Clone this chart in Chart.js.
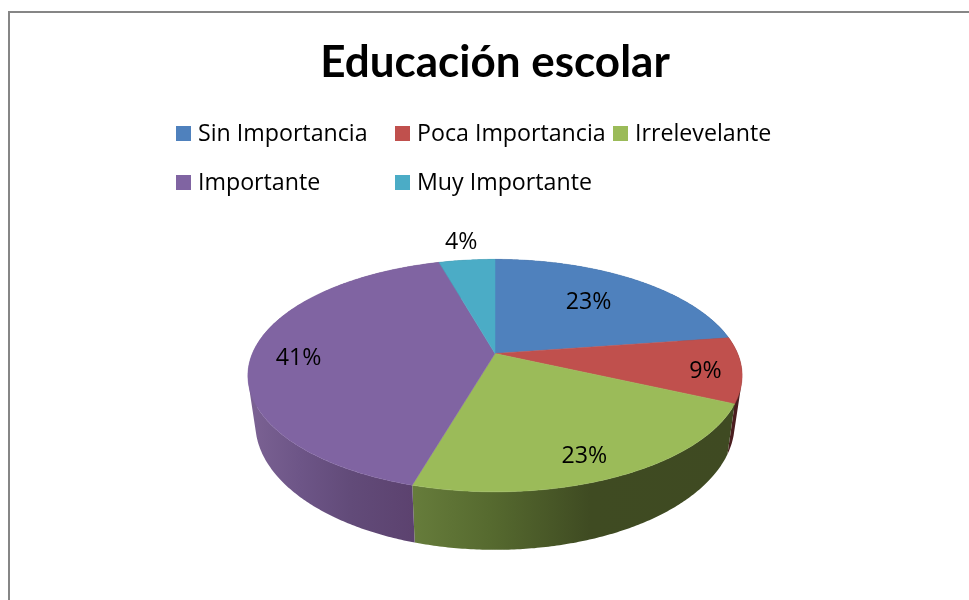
<!DOCTYPE html>
<html>
<head>
<meta charset="utf-8">
<title>Educación escolar</title>
<script src="https://cdn.jsdelivr.net/npm/chart.js@4"></script>
<style>
    html, body { margin: 0; padding: 0; background: #fff; }
    canvas { display: block; }
</style>
</head>
<body>
<canvas id="pieChart" width="969" height="600"></canvas>
<script>
// --- Data ---
const titleText = 'Educación escolar';
const categories = ['Sin Importancia', 'Poca Importancia', 'Irrelevelante', 'Importante', 'Muy Importante'];
const percentages = [22.7, 9.1, 22.7, 41.1, 4.4];

// --- Estilo ---
const sliceColors = ['#4F81BD', '#C0504D', '#9BBB59', '#8064A2', '#4BACC6'];
// wall shading by screen x: [x, colour] stops per slice
const wallShades = [
    [[250, '#2f4d71'], [740, '#2f4d71']],
    [[250, '#4a1d1f'], [740, '#4a1d1f']],
    [[414, '#667c3b'], [490, '#566a2f'], [590, '#3f4b22'], [735, '#3f4a22']],
    [[250, '#7b6293'], [300, '#6d5587'], [350, '#624b79'], [414, '#5c426f']],
    [[250, '#2d6676'], [740, '#2d6676']]
];
const labelRadius = [0.66, 0.86, 0.84, 0.81, 1.25];
const labelNudge = [[-2, 0], [-1, 4], [-10, 3], [0, 5], [0, 1]];
const legendCols = [176, 395, 613];
const legendRows = [134, 183];
const bodyFont = '23.2px "Open Sans"';

// --- Proyeksi pie 3D (perspective of the unit circle to the screen) ---
const apexX = 495, apexY = 353.5;
const persp = -0.19, scaleX = 242.6, scaleY = 44.9;

function project(angle, r) {
    // angle is the Chart.js arc angle, -PI/2 is the top of the pie
    const x = Math.cos(angle) * r;
    const y = Math.sin(angle) * r;
    const d = 1 + persp * y;
    return { x: apexX + scaleX * x / d, y: (scaleY * y + apexY) / d };
}

function lowerRim(p) {
    return { x: apexX + (p.x - apexX) * 0.97, y: p.y * 1.087 + 15.2 };
}

function sampleRim(start, end) {
    const pts = [];
    const steps = Math.max(2, Math.ceil((end - start) / 0.01));
    for (let i = 0; i <= steps; i++) {
        pts.push(project(start + (end - start) * i / steps, 1));
    }
    return pts;
}

const pie3d = {
    id: 'pie3d',
    beforeDraw(chart) {
        const c = chart.ctx;
        c.save();
        c.fillStyle = '#fff';
        c.fillRect(0, 0, chart.width, chart.height);
        c.strokeStyle = '#868686';
        c.lineWidth = 2;
        c.beginPath();
        c.moveTo(9, chart.height);
        c.lineTo(9, 12);
        c.lineTo(chart.width, 12);
        c.stroke();
        c.restore();
    },
    beforeDatasetsDraw(chart) {
        const c = chart.ctx;
        const arcs = chart.getDatasetMeta(0).data;
        const values = chart.data.datasets[0].data;
        c.save();

        // side wall: all quads of a slice go in one path, so no seams between them
        arcs.forEach((arc, i) => {
            const shade = wallShades[i];
            const x0 = shade[0][0];
            const x1 = shade[shade.length - 1][0];
            const grad = c.createLinearGradient(x0, 0, x1, 0);
            shade.forEach(s => grad.addColorStop((s[0] - x0) / (x1 - x0), s[1]));
            c.fillStyle = grad;
            const rim = sampleRim(arc.startAngle, arc.endAngle);
            c.beginPath();
            for (let k = 0; k < rim.length - 1; k++) {
                const a = rim[k], b = rim[k + 1];
                let quad = [a, b, lowerRim(b), lowerRim(a)];
                // same winding everywhere, otherwise overlaps at the fold cancel out
                const area = (b.x - a.x) * (quad[3].y - a.y) - (b.y - a.y) * (quad[3].x - a.x);
                if (area < 0) quad = quad.reverse();
                quad.forEach((p, n) => n ? c.lineTo(p.x, p.y) : c.moveTo(p.x, p.y));
                c.closePath();
            }
            c.fill();
        });

        // top face
        arcs.forEach(arc => {
            c.fillStyle = arc.options.backgroundColor;
            c.strokeStyle = arc.options.backgroundColor;
            c.lineWidth = 0.5;
            c.beginPath();
            c.moveTo(apexX, project(0, 0).y);
            sampleRim(arc.startAngle, arc.endAngle).forEach(p => c.lineTo(p.x, p.y));
            c.closePath();
            c.fill();
            c.stroke();
        });

        // percent labels
        c.fillStyle = '#000';
        c.font = bodyFont;
        c.textAlign = 'center';
        c.textBaseline = 'middle';
        arcs.forEach((arc, i) => {
            const mid = (arc.startAngle + arc.endAngle) / 2;
            const p = project(mid, labelRadius[i]);
            c.fillText(Math.round(values[i]) + '%', p.x + labelNudge[i][0], p.y + labelNudge[i][1]);
        });

        c.restore();
        return false; // default flat arcs are replaced by the drawing above
    },
    afterDraw(chart) {
        // legend with fixed columns like the original
        const c = chart.ctx;
        c.save();
        c.font = bodyFont;
        c.textAlign = 'left';
        c.textBaseline = 'middle';
        chart.data.labels.forEach((label, i) => {
            const x = legendCols[i % 3];
            const y = legendRows[Math.floor(i / 3)];
            c.fillStyle = sliceColors[i];
            c.fillRect(x, y - 8, 15, 15);
            c.fillStyle = '#000';
            c.fillText(label, x + 22, y);
        });
        c.restore();
    }
};

// --- Chart ---
const ctx = document.getElementById('pieChart').getContext('2d');
const eduChart = new Chart(ctx, {
    type: 'pie',
    data: {
        labels: categories,
        datasets: [{
            data: percentages,
            backgroundColor: sliceColors,
            borderWidth: 0
        }]
    },
    options: {
        responsive: false,
        animation: false,
        layout: { padding: { left: 21, top: 36 } },
        plugins: {
            legend: { display: false },
            tooltip: { enabled: false },
            title: {
                display: true,
                text: titleText,
                color: '#000',
                font: { family: 'Lato', size: 44, weight: 'bold' },
                padding: 0
            }
        }
    },
    plugins: [pie3d]
});
</script>
</body>
</html>
